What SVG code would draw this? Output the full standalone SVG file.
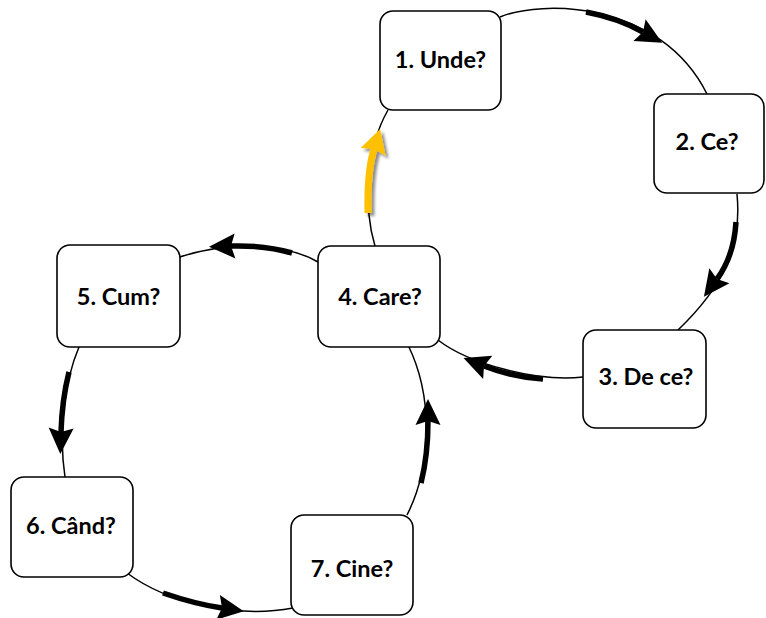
<svg xmlns="http://www.w3.org/2000/svg" width="766" height="618" viewBox="0 0 766 618">
  <defs>
    <style>
      .box { fill: #ffffff; stroke: #000000; stroke-width: 1.6; }
      .lbl { font-family: Lato, "Open Sans", "Liberation Sans", sans-serif; font-weight: bold; font-size: 23.5px; fill: #000000; text-anchor: middle; }
      .thin { fill: none; stroke: #000000; stroke-width: 1.5; }
      .thick { fill: none; stroke: #000000; stroke-width: 5.5; marker-end: url(#ah); }
      .yel { fill: none; stroke: #FFC000; stroke-width: 7; marker-end: url(#ahy); }
    </style>
    <marker id="ah" markerUnits="userSpaceOnUse" viewBox="-8 -16 38 32" markerWidth="38" markerHeight="32" refX="0" refY="0" orient="auto">
      <path d="M-4,-12.5 L22,0 L-4,12.5 L0,0 z" fill="#000000"/>
    </marker>
    <marker id="ahy" markerUnits="userSpaceOnUse" viewBox="-8 -16 38 32" markerWidth="38" markerHeight="32" refX="0" refY="0" orient="auto">
      <path d="M-3,-13 L21,0 L-3,13 L0,0 z" fill="#FFC000"/>
    </marker>
    <filter id="sh" filterUnits="userSpaceOnUse" x="330" y="100" width="80" height="140">
      <feGaussianBlur in="SourceAlpha" stdDeviation="1.5"/>
      <feOffset dx="2.5" dy="2.5" result="b"/>
      <feComponentTransfer><feFuncA type="linear" slope="0.45"/></feComponentTransfer>
      <feMerge><feMergeNode/><feMergeNode in="SourceGraphic"/></feMerge>
    </filter>
  </defs>
  <rect width="766" height="618" fill="#ffffff"/>

  <g id="connectors">
    <!-- 1 -> 2 -->
    <path class="thin" d="M500,17 C540,0 660,0 707,94"/>
    <path class="thick" d="M586,12 Q618,18 643,32"/>
    <!-- 2 -> 3 -->
    <path class="thin" d="M737,194 C742,245 725,285 678,330"/>
    <path class="thick" d="M736,222 Q734,256 717,279"/>
    <!-- 3 -> 4 -->
    <path class="thin" d="M583,377 C540,382 470,365 438,340"/>
    <path class="thick" d="M543,379 Q512,377 484,366"/>
    <!-- 4 -> 1 -->
    <path class="thin" d="M375,246 C364,210 365,150 388,110"/>
    <path class="yel" filter="url(#sh)" d="M368,213 Q367,172 374,149"/>
    <!-- 4 -> 5 -->
    <path class="thin" d="M318,262 C290,245 230,240 180,257"/>
    <path class="thick" d="M292,253 Q265,245 231,246"/>
    <!-- 5 -> 6 -->
    <path class="thin" d="M79,347 C65,380 58,430 65,477"/>
    <path class="thick" d="M69,372 Q62,400 61,432"/>
    <!-- 6 -> 7 -->
    <path class="thin" d="M127,573 C170,605 240,618 293,608"/>
    <path class="thick" d="M163,593 Q195,604 222,608"/>
    <!-- 7 -> 4 -->
    <path class="thin" d="M407,515 C430,470 435,400 408,345"/>
    <path class="thick" d="M421,483 Q428,455 428,421"/>
  </g>

  <g id="n1">
    <rect class="box" x="380" y="11" width="121" height="99" rx="13"/>
    <text class="lbl" x="440.5" y="68">1. Unde?</text>
  </g>
  <g id="n2">
    <rect class="box" x="654" y="94" width="110" height="99" rx="13"/>
    <text class="lbl" x="707" y="150">2. Ce?</text>
  </g>
  <g id="n3">
    <rect class="box" x="583" y="330" width="123" height="98" rx="13"/>
    <text class="lbl" x="646" y="385">3. De ce?</text>
  </g>
  <g id="n4">
    <rect class="box" x="318" y="246" width="122" height="101" rx="13"/>
    <text class="lbl" x="380" y="305">4. Care?</text>
  </g>
  <g id="n5">
    <rect class="box" x="57" y="245" width="123" height="102" rx="13"/>
    <text class="lbl" x="118.5" y="305">5. Cum?</text>
  </g>
  <g id="n6">
    <rect class="box" x="11" y="477" width="122" height="100" rx="13"/>
    <text class="lbl" x="71" y="534">6. Când?</text>
  </g>
  <g id="n7">
    <rect class="box" x="291" y="515" width="122" height="100" rx="13"/>
    <text class="lbl" x="352" y="577">7. Cine?</text>
  </g>
</svg>
